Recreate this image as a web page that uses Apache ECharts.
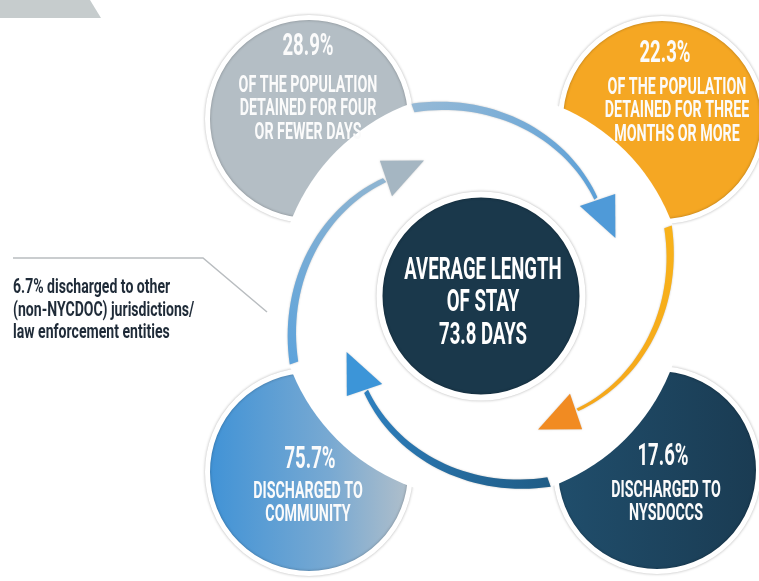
<!DOCTYPE html>
<html>
<head>
<meta charset="utf-8">
<script src="https://cdn.jsdelivr.net/npm/echarts@6/dist/echarts.min.js"></script>
<style>
html, body { margin: 0; padding: 0; background: #fff; }
#main { width: 759px; height: 581px; }
</style>
</head>
<body>
<div id="main"></div>
<script>
// values
const sharePct = [28.9, 22.3, 17.6, 75.7];
const shareLines = [
  ["OF THE POPULATION", "DETAINED FOR FOUR", "OR FEWER DAYS"],
  ["OF THE POPULATION", "DETAINED FOR THREE", "MONTHS OR MORE"],
  ["DISCHARGED TO", "NYSDOCCS"],
  ["DISCHARGED TO", "COMMUNITY"]
];
const avgStayDays = 73.8;
const hubLines = ["AVERAGE LENGTH", "OF STAY", avgStayDays + " DAYS"];
const otherPct = 6.7;
const otherLines = ["discharged to other", "(non-NYCDOC) jurisdictions/", "law enforcement entities"];

// layout (pixels)
const hub = [481, 295];
const bubbleXY = [[309, 119], [662, 120], [657, 470], [309, 472]];
const pctXY = [[308, 47], [665, 54], [663, 457], [310, 460]];
const linesXY = [[308, 86], [677, 88], [666, 491], [308, 492]];
const lineGap = 23.5;

const bubbleFill = [
  "#b4bec5",
  "#f5a723",
  new echarts.graphic.LinearGradient(0, 0, 1, 0, [{ offset: 0, color: "#204e6c" }, { offset: 1, color: "#1a3b52" }]),
  new echarts.graphic.LinearGradient(0, 0, 1, 0, [{ offset: 0, color: "#3f92d6" }, { offset: 0.6, color: "#78a9d2" }, { offset: 1, color: "#b3c0ca" }])
];

// arrows: start angle (deg, clockwise from 3 o'clock), width at tail / at head, colours
const arrows = [
  { a0: 250, w0: 9, w1: 4, tail: "#95b9d6", body: "#5ba0d8", head: "#4f9ad8" },
  { a0: 340, w0: 8, w1: 3, tail: "#f8b21a", body: "#f5a71b", head: "#f18b22" },
  { a0: 70, w0: 10, w1: 5, tail: "#1f5c86", body: "#2e80bf", head: "#3c95d8" },
  { a0: 160, w0: 9, w1: 5, tail: "#5ea3db", body: "#8fb5d2", head: "#a5b6c2" }
];

function pt(a0, d, r) {
  const t = (a0 + d) * Math.PI / 180;
  return [hub[0] + r * Math.cos(t), hub[1] + r * Math.sin(t)];
}

function arrowEls(a) {
  const outer = [], inner = [];
  for (let d = 0; d <= 70; d += 2) {
    const r = 199 - 49 * d / 70;
    const w = a.w0 + (a.w1 - a.w0) * d / 70;
    outer.push(pt(a.a0, d, r + w / 2));
    inner.unshift(pt(a.a0, d, r - w / 2));
  }
  const p0 = pt(a.a0, 0, 199), p1 = pt(a.a0, 70, 150);
  return [
    {
      type: "polygon", z: 5,
      shape: { points: outer.concat(inner) },
      style: {
        fill: new echarts.graphic.LinearGradient(p0[0], p0[1], p1[0], p1[1],
          [{ offset: 0, color: a.tail }, { offset: 1, color: a.body }], true),
        shadowBlur: 2, shadowColor: "rgba(0,0,0,0.25)"
      }
    },
    {
      type: "polygon", z: 6,
      shape: { points: [pt(a.a0, 68, 133), pt(a.a0, 73, 168), pt(a.a0, 87, 146)] },
      style: { fill: a.head, shadowBlur: 2, shadowColor: "rgba(0,0,0,0.2)" }
    }
  ];
}

function label(text, x, y, size, sx, fill, align) {
  return {
    type: "text", z: 20, x: x, y: y, scaleX: sx,
    style: {
      text: text, fill: fill,
      font: "bold " + size + "px Roboto",
      align: align || "center", textAlign: align || "center",
      verticalAlign: "middle", textVerticalAlign: "middle"
    }
  };
}

let graphics = [];
// top-left banner piece
graphics.push({ type: "polygon", z: 1, shape: { points: [[0, 0], [90, 0], [101, 18], [0, 18]] }, style: { fill: "#c6cccd" } });
// white disk cutting the outer bubbles
graphics.push({ type: "circle", z: 3, shape: { cx: hub[0], cy: hub[1], r: 204 }, style: { fill: "#fff" } });
arrows.forEach(a => { graphics = graphics.concat(arrowEls(a)); });

// bubble texts
sharePct.forEach((v, i) => {
  graphics.push(label(v + "%", pctXY[i][0], pctXY[i][1], 31, 0.6, "#fbfbfb"));
  shareLines[i].forEach((s, j) => {
    graphics.push(label(s, linesXY[i][0], linesXY[i][1] + j * lineGap, 23, 0.62, "#fbfbfb"));
  });
});
// hub texts
hubLines.forEach((s, j) => {
  graphics.push(label(s, 483, 271 + j * 32.5, 31, 0.6, "#ffffff"));
});
// side note
graphics.push({ type: "polyline", z: 1, shape: { points: [[13, 258], [203, 258], [267, 312]] }, style: { stroke: "#b9bdc0", lineWidth: 1.5, fill: null } });
const noteLines = [otherPct + "% " + otherLines[0]].concat(otherLines.slice(1));
noteLines.forEach((s, j) => {
  graphics.push(label(s, 13, 288 + j * 22.5, 21, 0.67, "#1f2b38", "left"));
});

const option = {
  animation: false,
  grid: { left: 0, right: 0, top: 0, bottom: 0 },
  xAxis: { type: "value", min: 0, max: 759, show: false },
  yAxis: { type: "value", min: 0, max: 581, inverse: true, show: false },
  series: [
    {
      // four outcome bubbles
      type: "scatter", z: 1, symbol: "circle", symbolSize: 203,
      data: sharePct.map((v, i) => ({
        name: shareLines[i].join(" "),
        value: bubbleXY[i],
        itemStyle: { color: bubbleFill[i] }
      })),
      itemStyle: { opacity: 1, borderColor: "#fff", borderWidth: 5, shadowBlur: 3, shadowColor: "rgba(0,0,0,0.3)" },
      emphasis: { disabled: true }
    },
    {
      // average stay hub
      type: "scatter", z: 10, symbol: "circle", symbolSize: 203,
      data: [{ name: hubLines.join(" "), value: [hub[0], hub[1] + 1] }],
      itemStyle: { opacity: 1, color: "#1a384b", borderColor: "#fff", borderWidth: 6, shadowBlur: 3, shadowColor: "rgba(0,0,0,0.3)" },
      emphasis: { disabled: true }
    }
  ],
  graphic: { elements: graphics }
};

const chart = echarts.init(document.getElementById("main"));
chart.setOption(option);
</script>
</body>
</html>
